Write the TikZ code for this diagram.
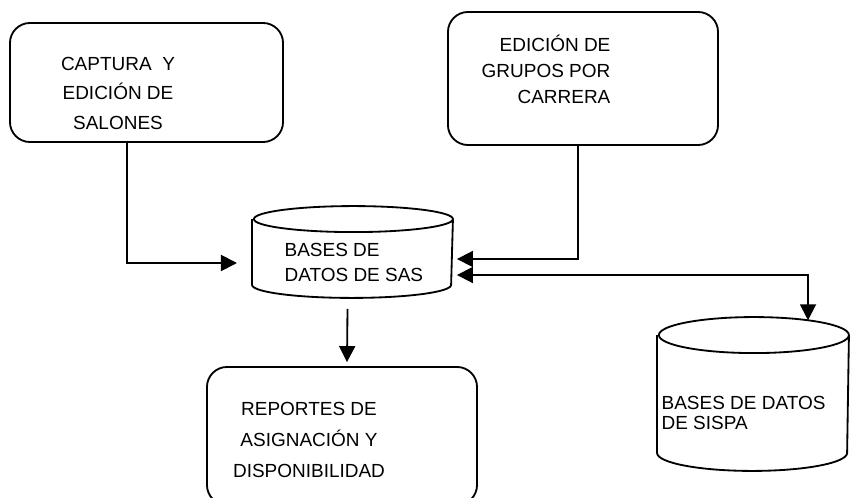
\documentclass[tikz,border=0pt]{standalone}
\usepackage{fontspec}
\setmainfont{Liberation Sans}
\usetikzlibrary{arrows.meta}

\begin{document}
\begin{tikzpicture}[x=0.025cm, y=-0.025cm, line width=1.3pt,
    every node/.style={font=\fontsize{13.5pt}{21pt}\selectfont},
    caja/.style={draw, rounded corners=0.5cm, inner sep=0pt},
    base/.style={inner sep=0pt},
    flecha/.style={-{Triangle[length=0.4cm, width=0.4cm]}},
    dobleflecha/.style={{Triangle[length=0.4cm, width=0.4cm]}-{Triangle[length=0.4cm, width=0.4cm]}}]
  \useasboundingbox (0,0) rectangle (851,498);

  \node[caja, minimum width=6.825cm, minimum height=2.975cm] (captura) at (146.5, 82.5) {};
  \node[caja, minimum width=6.75cm, minimum height=3.325cm] (grupos) at (583, 78.5) {};
  \node[caja, minimum width=6.75cm, minimum height=3.45cm] (reportes) at (342, 436) {};
  \node[base, minimum width=4.975cm, minimum height=2.25cm] (sas) at (352.5, 252) {};
  \node[base, minimum width=4.75cm, minimum height=3.8cm] (sispa) at (753, 394) {};

  % cilindros
  \draw ([yshift=-0.325cm]sas.north west) -- ([yshift=0.325cm]sas.south west)
    arc[start angle=180, end angle=360, x radius=2.4875cm, y radius=0.325cm]
    -- ([yshift=-0.325cm]sas.north east)
    arc[start angle=0, end angle=180, x radius=2.4875cm, y radius=0.325cm]
    arc[start angle=180, end angle=360, x radius=2.4875cm, y radius=0.325cm];
  \draw ([yshift=-0.45cm]sispa.north west) -- ([yshift=0.45cm]sispa.south west)
    arc[start angle=180, end angle=360, x radius=2.375cm, y radius=0.45cm]
    -- ([yshift=-0.45cm]sispa.north east)
    arc[start angle=0, end angle=180, x radius=2.375cm, y radius=0.45cm]
    arc[start angle=180, end angle=360, x radius=2.375cm, y radius=0.45cm];

  \node[align=center] (captura-txt) at (118, 93) {CAPTURA\ \ Y\\EDICIÓN DE\\SALONES};
  \node[align=right, anchor=east, font=\fontsize{13.5pt}{18.5pt}\selectfont] (grupos-txt) at (616, 69)
    {EDICIÓN DE\\GRUPOS POR\\CARRERA};
  \node[align=center, font=\fontsize{13.5pt}{22pt}\selectfont] (reportes-txt) at (309, 440)
    {REPORTES DE\\ASIGNACIÓN Y\\DISPONIBILIDAD};
  \node[align=left, anchor=west, font=\fontsize{13.5pt}{17.8pt}\selectfont] (sas-txt) at (279, 262.5)
    {BASES DE\\DATOS DE SAS};
  \node[align=left, anchor=west, font=\fontsize{13.5pt}{14.2pt}\selectfont] (sispa-txt) at (656, 413)
    {BASES DE DATOS\\DE SISPA};

  \coordinate (sas-in) at (237, 263);
  \draw[flecha] ([xshift=-0.49cm]captura.south) |- (sas-in);
  \draw[flecha] ([xshift=-0.125cm]grupos.south) |- ([xshift=0.1cm, yshift=-0.175cm]sas.east);
  \draw[dobleflecha] ([xshift=0.1cm, yshift=-0.575cm]sas.east) -| ([xshift=1.375cm, yshift=-0.08cm]sispa.north);
  \draw[flecha] ([xshift=-0.125cm, yshift=-0.275cm]sas.south) -- ([xshift=0.125cm, yshift=0.1cm]reportes.north);
\end{tikzpicture}
\end{document}
